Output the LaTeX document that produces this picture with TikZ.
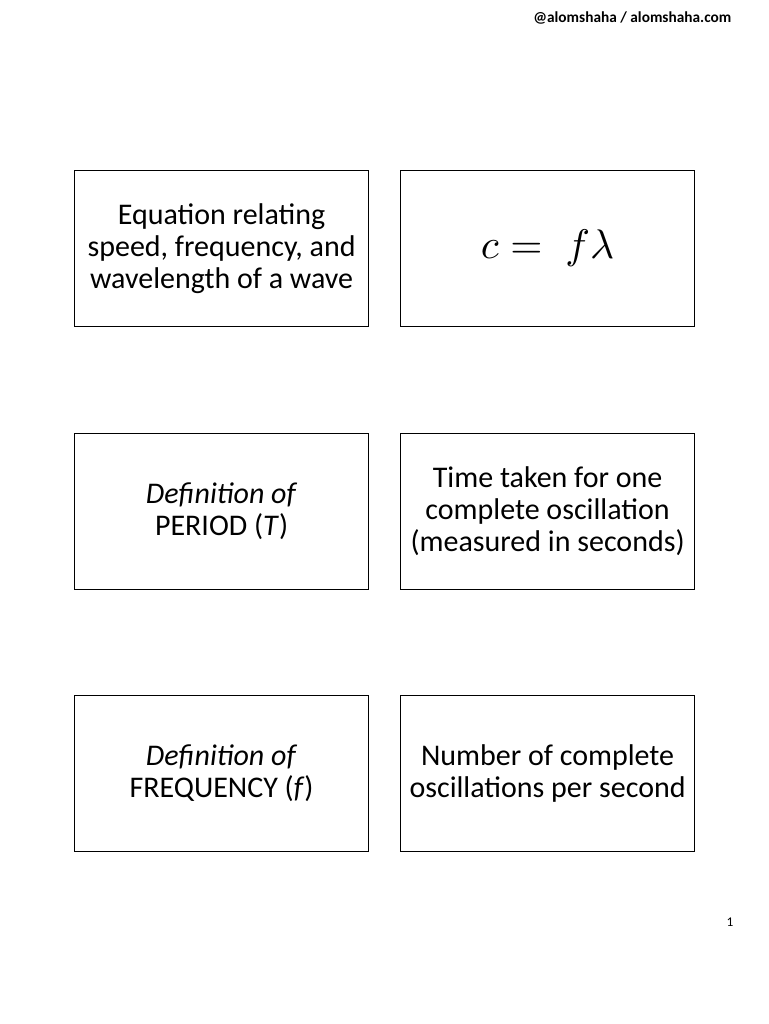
\documentclass[tikz,border=0pt]{standalone}
\usepackage{fontspec}
\setmainfont{Carlito}
\usepackage{graphicx}
\begin{document}
\begin{tikzpicture}[x=0.75pt,y=-0.75pt,
 card/.style={draw=black,line width=0.9pt,minimum width=220.5pt,minimum height=117pt,anchor=north west,align=center,inner sep=0pt},
 cardtxt/.style={font=\fontsize{22.5}{24}\selectfont}]
\useasboundingbox (0,0) rectangle (768,1024);
\node[anchor=east,font=\fontsize{11.5}{13}\selectfont\bfseries] (hdr) at (736,18) {@alomshaha / alomshaha.com};
\node[card,cardtxt] (a1) at (74,170) {Equation relating\\speed, frequency, and\\wavelength of a wave};
\node[card] (b1) at (400,170) {\scalebox{3.1}{$c =\; f\lambda$}};
\node[card,cardtxt] (a2) at (74,433) {\textit{Definition of}\\PERIOD (\textit{T})};
\node[card,cardtxt] (b2) at (400,433) {Time taken for one\\complete oscillation\\(measured in seconds)};
\node[card,cardtxt] (a3) at (74,695) {\textit{Definition of}\\FREQUENCY (\textit{f})};
\node[card,cardtxt] (b3) at (400,695) {Number of complete\\oscillations per second};
\node[font=\fontsize{10}{11}\selectfont] (pg) at (730,922) {1};
\end{tikzpicture}
\end{document}
